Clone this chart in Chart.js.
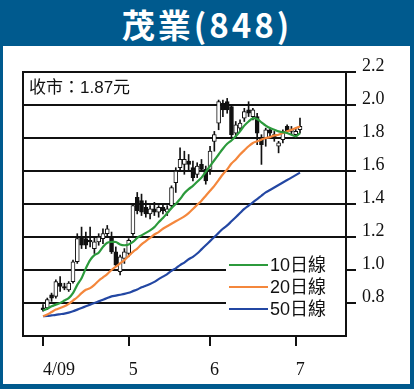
<!DOCTYPE html>
<html>
<head>
<meta charset="utf-8">
<script src="https://cdn.jsdelivr.net/npm/chart.js@4"></script>
<style>
  html, body { margin: 0; padding: 0; }
  body { width: 414px; height: 389px; background: #005a8e; position: relative; overflow: hidden; }
  #titulo { position: absolute; left: 0; top: 0; width: 414px; height: 46px; line-height: 46px;
            text-align: center; color: #fff; font: bold 33px 'Noto Sans CJK TC', sans-serif; letter-spacing: 3px; }
  #painel { position: absolute; left: 3px; top: 46px; width: 407px; height: 338px; background: #fff; }
  #grafico { position: absolute; left: 0; top: 0; }
</style>
</head>
<body>
<div id="titulo">茂業(848)</div>
<div id="painel"></div>
<canvas id="grafico" width="414" height="389"></canvas>
<script>
// daily candles, index 0 = first trading day of April 2009
const opens  = [0.77,0.77,0.85,0.84,0.92,0.90,0.88,0.93,1.05,1.20, 1.19,1.18,1.13,1.17,1.19,1.22,1.20,1.11,0.99,1.07, 1.10,1.22,1.44,1.42,1.38,1.34,1.37,1.35,1.38,1.35, 1.39,1.53,1.62,1.64,1.66,1.62,1.58,1.64,1.61,1.61, 1.78,1.89,2.01,2.02,1.99,1.83,1.86,1.92,1.97,1.93, 1.93,1.80,1.80,1.85,1.82,1.75,1.79,1.87,1.84,1.82, 1.85];
const highs  = [0.79,0.83,0.86,0.94,0.96,0.92,0.93,1.06,1.22,1.26, 1.23,1.26,1.20,1.22,1.25,1.27,1.23,1.14,1.09,1.13, 1.19,1.40,1.47,1.46,1.42,1.39,1.41,1.39,1.40,1.39, 1.51,1.62,1.74,1.72,1.70,1.66,1.65,1.67,1.63,1.75, 1.84,2.03,2.03,2.04,2.00,1.90,1.91,1.98,2.02,1.98, 1.95,1.82,1.86,1.86,1.84,1.78,1.85,1.88,1.87,1.86, 1.92];
const lows   = [0.75,0.76,0.81,0.83,0.87,0.88,0.87,0.92,1.04,1.13, 1.13,1.14,1.10,1.15,1.16,1.20,1.10,1.02,0.97,1.04, 1.08,1.21,1.34,1.33,1.32,1.31,1.33,1.32,1.34,1.33, 1.38,1.47,1.60,1.58,1.60,1.54,1.56,1.60,1.52,1.58, 1.72,1.85,1.93,1.95,1.80,1.80,1.84,1.90,1.93,1.91, 1.76,1.64,1.75,1.81,1.78,1.71,1.77,1.83,1.82,1.80, 1.83];
const closes = [0.76,0.82,0.83,0.93,0.90,0.89,0.92,1.05,1.19,1.15, 1.15,1.17,1.17,1.20,1.22,1.25,1.11,1.03,1.08,1.11, 1.18,1.39,1.36,1.35,1.34,1.37,1.35,1.38,1.36,1.37, 1.50,1.60,1.67,1.67,1.64,1.56,1.63,1.61,1.54,1.72, 1.82,2.02,1.97,1.97,1.82,1.88,1.89,1.96,1.95,1.97, 1.83,1.76,1.85,1.83,1.80,1.77,1.84,1.84,1.85,1.84, 1.87];

// moving averages
const ma10 = [0.755,0.765,0.78,0.79,0.80,0.815,0.83,0.86,0.91,0.95, 1.01,1.06,1.09,1.105,1.14,1.165,1.17,1.17,1.155,1.15, 1.155,1.17,1.195,1.21,1.225,1.24,1.26,1.29,1.315,1.345, 1.375,1.40,1.43,1.465,1.49,1.51,1.535,1.56,1.595,1.63, 1.665,1.70,1.735,1.765,1.785,1.81,1.84,1.875,1.90,1.92, 1.915,1.895,1.875,1.86,1.85,1.84,1.835,1.83,1.82,1.81, 1.83];
const ma20 = [0.72,0.73,0.745,0.76,0.77,0.78,0.795,0.815,0.835,0.86, 0.88,0.89,0.91,0.935,0.955,0.975,1.00,1.02,1.04,1.06, 1.085,1.11,1.13,1.155,1.175,1.195,1.215,1.23,1.25,1.265, 1.28,1.295,1.31,1.325,1.345,1.37,1.395,1.42,1.45,1.48, 1.51,1.545,1.58,1.61,1.645,1.67,1.70,1.725,1.75,1.77, 1.78,1.79,1.80,1.805,1.815,1.82,1.83,1.84,1.85,1.86, 1.87];
const ma50 = [0.72,0.722,0.725,0.728,0.732,0.736,0.742,0.75,0.76,0.77, 0.78,0.79,0.80,0.81,0.82,0.83,0.84,0.845,0.85,0.855, 0.862,0.872,0.882,0.895,0.905,0.915,0.928,0.945,0.96,0.975, 0.995,1.01,1.03,1.045,1.065,1.08,1.10,1.125,1.15,1.175, 1.20,1.225,1.25,1.27,1.295,1.32,1.345,1.37,1.39,1.41, 1.43,1.45,1.47,1.485,1.50,1.515,1.53,1.545,1.56,1.575, 1.59];

const xTickIdx = [0, 20, 39, 59];
const xTickLabels = ['4/09', '5', '6', '7'];
const yTicks = [0.8, 1.0, 1.2, 1.4, 1.6, 1.8, 2.0, 2.2];
const legendLabels = ['10日線', '20日線', '50日線'];
const closeLabel = '收市：1.87元';

const verde = '#2c9a3c', laranja = '#f4873c', azul = '#2347a3', tinta = '#111';

const pts = arr => arr.map((v, i) => ({ x: i, y: v }));

const extras = {
  id: 'extras',
  afterDatasetsDraw(chart) {
    const { ctx, chartArea: a } = chart;
    ctx.save();
    // left side of the frame
    ctx.strokeStyle = tinta;
    ctx.lineWidth = 2;
    ctx.beginPath();
    ctx.moveTo(a.left, a.top - 1);
    ctx.lineTo(a.left, a.bottom + 1);
    ctx.stroke();

    // closing price note
    ctx.fillStyle = tinta;
    ctx.font = "17px 'Liberation Sans', 'Noto Sans CJK TC', sans-serif";
    ctx.textBaseline = 'middle';
    ctx.fillText(closeLabel, a.left + 6, a.top + 16);

    // legend box over the grid lines
    ctx.fillStyle = '#fff';
    ctx.fillRect(a.right - 120, a.bottom - 89, 119, 88);
    const cores = [verde, laranja, azul];
    ctx.font = "18px 'Liberation Sans', 'Noto Sans CJK TC', sans-serif";
    legendLabels.forEach((t, k) => {
      const y = a.bottom - 71 + k * 22;
      ctx.strokeStyle = cores[k];
      ctx.lineWidth = 2;
      ctx.beginPath();
      ctx.moveTo(a.right - 117, y);
      ctx.lineTo(a.right - 78, y);
      ctx.stroke();
      ctx.fillStyle = tinta;
      ctx.fillText(t, a.right - 76, y + 1);
    });
    ctx.restore();
  }
};

new Chart(document.getElementById('grafico'), {
  type: 'bar',
  data: {
    datasets: [
      { type: 'line', data: pts(ma10), borderColor: verde, borderWidth: 2.2, pointRadius: 0, tension: 0.3, order: 0 },
      { type: 'line', data: pts(ma20), borderColor: laranja, borderWidth: 2.2, pointRadius: 0, tension: 0.3, order: 0 },
      { type: 'line', data: pts(ma50), borderColor: azul, borderWidth: 2.2, pointRadius: 0, tension: 0.3, order: 0 },
      {
        data: opens.map((o, i) => ({ x: i, y: [o, closes[i]] })),
        backgroundColor: opens.map((o, i) => closes[i] >= o ? '#fff' : tinta),
        borderColor: tinta, borderWidth: 1, borderSkipped: false,
        barThickness: 4, grouped: false, order: 1
      },
      {
        data: highs.map((h, i) => ({ x: i, y: [lows[i], h] })),
        backgroundColor: tinta, barThickness: 1, grouped: false, order: 2
      }
    ]
  },
  options: {
    responsive: false,
    devicePixelRatio: 1,
    animation: false,
    layout: { padding: { left: 23, top: 72, right: 0, bottom: 0 } },
    plugins: { legend: { display: false }, tooltip: { enabled: false } },
    scales: {
      x: {
        type: 'linear', min: -4.67, max: 70.74, offset: false,
        afterBuildTicks: s => { s.ticks = xTickIdx.map(v => ({ value: v })); },
        afterFit: s => { s.height = 53; },
        ticks: {
          autoSkip: false, maxRotation: 0, align: 'start', padding: 13, color: tinta,
          font: { family: "'Liberation Serif', serif", size: 18 },
          callback: v => xTickLabels[xTickIdx.indexOf(v)]
        },
        grid: { drawOnChartArea: false, tickLength: 10, color: tinta, lineWidth: 2, offset: false },
        border: { color: tinta, width: 2 }
      },
      y: {
        position: 'right', min: 0.6, max: 2.2,
        afterBuildTicks: s => { s.ticks = yTicks.map(v => ({ value: v })); },
        afterFit: s => { s.width = 68; },
        ticks: {
          padding: 6, labelOffset: -6, color: tinta,
          font: { family: "'Liberation Serif', serif", size: 18 },
          callback: v => v.toFixed(1)
        },
        grid: { tickLength: 10, color: tinta, lineWidth: 2 },
        border: { color: tinta, width: 2 }
      }
    }
  },
  plugins: [extras]
});
</script>
</body>
</html>
